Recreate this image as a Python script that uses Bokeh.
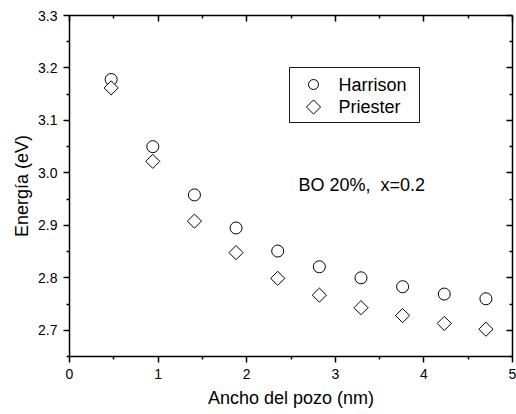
import math
from bokeh.plotting import figure
from bokeh.models import (ColumnDataSource, Range1d, FixedTicker, LinearAxis,
                          Label, NumeralTickFormatter, CustomJSTickFormatter,
                          BoxAnnotation)
from bokeh.embed import file_html
from bokeh.resources import INLINE

# ---- data ----
well_width = [0.47, 0.94, 1.41, 1.88, 2.35, 2.82, 3.29, 3.76, 4.23, 4.70]
harrison = [3.178, 3.050, 2.958, 2.895, 2.851, 2.821, 2.800, 2.783, 2.769, 2.760]
priester = [3.162, 3.022, 2.908, 2.848, 2.799, 2.767, 2.743, 2.728, 2.713, 2.702]

x_ticks = [0, 1, 2, 3, 4, 5]
x_minor = [0.5, 1.5, 2.5, 3.5, 4.5]
y_ticks = [2.7, 2.8, 2.9, 3.0, 3.1, 3.2, 3.3]
y_minor = [2.65, 2.75, 2.85, 2.95, 3.05, 3.15, 3.25]

series_names = ["Harrison", "Priester"]
annotation = "BO 20%, \u00a0x=0.2"

FONT = "Liberation Sans"

# layout (pixels)
W, H = 516, 414
ML, MR, MT, MB = 69, 4, 15, 58
FW, FH = W - ML - MR, H - MT - MB

src = ColumnDataSource(data=dict(x=well_width, h=harrison, p=priester))

p = figure(width=W, height=H, output_backend="svg", toolbar_location=None,
           x_range=Range1d(0, 5), y_range=Range1d(2.65, 3.3),
           min_border_left=ML, min_border_right=MR, min_border_top=MT,
           min_border_bottom=MB)
p.background_fill_color = "white"
p.border_fill_color = "white"
p.outline_line_color = None
p.xgrid.visible = False
p.ygrid.visible = False

# pixel space inside the frame (origin top-left) for the key box
p.extra_x_ranges = {"px": Range1d(0, FW)}
p.extra_y_ranges = {"px": Range1d(FH, 0)}

xt = FixedTicker(ticks=x_ticks, minor_ticks=x_minor)
yt = FixedTicker(ticks=y_ticks, minor_ticks=y_minor)

def style_main(ax, label, ticker):
    ax.ticker = ticker
    ax.axis_label = label
    ax.axis_label_text_font = FONT
    ax.axis_label_text_font_size = "18px"
    ax.axis_label_text_font_style = "normal"
    ax.axis_label_text_color = "black"
    ax.major_label_text_font = FONT
    ax.major_label_text_font_size = "14px"
    ax.major_label_text_color = "black"
    ax.axis_line_width = 1.5
    ax.axis_line_color = "black"
    ax.major_tick_line_width = 1.5
    ax.minor_tick_line_width = 1.5
    ax.major_tick_line_color = "black"
    ax.minor_tick_line_color = "black"
    ax.major_tick_in = 0
    ax.major_tick_out = 6
    ax.minor_tick_in = 0
    ax.minor_tick_out = 3
    ax.major_label_standoff = 6

style_main(p.xaxis[0], "Ancho del pozo (nm)", xt)
p.xaxis[0].axis_label_standoff = 6
style_main(p.yaxis[0], "Energía (eV)", yt)
p.yaxis[0].formatter = NumeralTickFormatter(format="0.0")
p.yaxis[0].axis_label_standoff = 3

def mirror(ticker):
    ax = LinearAxis(ticker=ticker)
    ax.formatter = CustomJSTickFormatter(code="return ''")
    ax.axis_line_width = 1.5
    ax.axis_line_color = "black"
    ax.major_tick_line_width = 1.5
    ax.minor_tick_line_width = 1.5
    ax.major_tick_in = 6
    ax.major_tick_out = 0
    ax.minor_tick_in = 3
    ax.minor_tick_out = 0
    ax.major_label_standoff = 0
    ax.axis_label_standoff = 0
    return ax

p.add_layout(mirror(xt), "above")
p.add_layout(mirror(yt), "right")

p.scatter("x", "h", source=src, marker="circle", size=12,
          fill_color="white", line_color="black", line_width=1)
p.scatter("x", "p", source=src, marker="square", angle=math.pi / 4,
          size=10, fill_color="white", line_color="black", line_width=1)

# ---- key (legend) box ----
BOX_L, BOX_R, BOX_T, BOX_B = 220, 350, 52, 107
KEY_X, TEXT_X = 244, 269
ROW_Y = [69, 91.5]
KEY_MARKERS = [("circle", 0.0, 10), ("square", math.pi / 4, 10)]

p.add_layout(BoxAnnotation(left=BOX_L, right=BOX_R, top=BOX_T, bottom=BOX_B,
                           x_range_name="px", y_range_name="px",
                           fill_color=None, line_color="black", line_width=1,
                           line_alpha=0.9))
for (mk, ang, sz), yy, name in zip(KEY_MARKERS, ROW_Y, series_names):
    p.scatter(x=[KEY_X], y=[yy], marker=mk, angle=ang, size=sz,
              x_range_name="px", y_range_name="px", fill_color="white",
              line_color="black", line_width=1, level="overlay")
    p.add_layout(Label(x=TEXT_X, y=yy, text=name, x_range_name="px",
                       y_range_name="px", text_font=FONT,
                       text_font_size="18px", text_color="black",
                       text_baseline="middle"))

p.add_layout(Label(x=2.585, y=2.9776, text=annotation, text_font=FONT,
                   text_font_size="18px", text_color="black",
                   text_baseline="alphabetic"))

open("out.html", "w").write(file_html(p, INLINE))
